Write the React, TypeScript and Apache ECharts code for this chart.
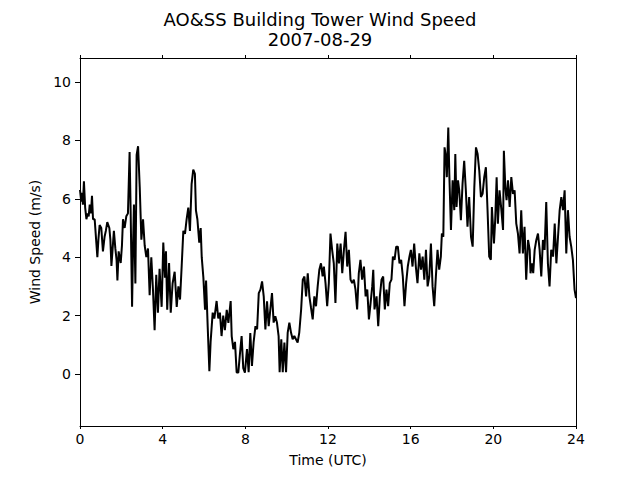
import React, { useEffect, useRef } from "react";
import * as echarts from "echarts";

const titleText = "AO&SS Building Tower Wind Speed\n2007-08-29";
const xLabel = "Time (UTC)";
const yLabel = "Wind Speed (m/s)";
const xTicks = [0, 4, 8, 12, 16, 20, 24];
const yTicks = [0, 2, 4, 6, 8, 10];

const hours = [
  0.0, 0.06, 0.1, 0.14, 0.19, 0.25, 0.31, 0.37, 0.42, 0.47, 0.53, 0.58, 0.63, 0.71, 0.79, 0.84, 0.89, 0.95,
  1.03, 1.11, 1.19, 1.25, 1.32, 1.42, 1.47, 1.52, 1.58, 1.64, 1.71, 1.77, 1.81, 1.87, 1.92, 1.97,
  2.03, 2.08, 2.16, 2.24, 2.32, 2.4, 2.45, 2.52, 2.57, 2.61, 2.68, 2.74, 2.81, 2.89, 2.97,
  3.05, 3.13, 3.21, 3.29, 3.37, 3.45, 3.53, 3.61, 3.69, 3.77, 3.85, 3.95,
  4.03, 4.11, 4.16, 4.22, 4.31, 4.39, 4.48, 4.58, 4.68, 4.76, 4.84, 4.92,
  5.0, 5.08, 5.16, 5.24, 5.32, 5.4, 5.48, 5.56, 5.61, 5.68, 5.77, 5.84, 5.89, 5.97,
  6.05, 6.1, 6.18, 6.26, 6.32, 6.42, 6.5, 6.61, 6.69, 6.77, 6.85, 6.93,
  7.01, 7.1, 7.18, 7.29, 7.34, 7.42, 7.5, 7.58, 7.66, 7.74, 7.82, 7.9, 7.98,
  8.08, 8.16, 8.24, 8.32, 8.4, 8.49, 8.57, 8.65, 8.73, 8.81, 8.89, 8.97,
  9.05, 9.13, 9.21, 9.29, 9.37, 9.45, 9.53, 9.61, 9.66, 9.74, 9.81, 9.89, 9.97,
  10.05, 10.13, 10.21, 10.29, 10.37, 10.45, 10.53, 10.61, 10.7, 10.78, 10.86, 10.94,
  11.02, 11.1, 11.18, 11.26, 11.34, 11.42, 11.5, 11.58, 11.66, 11.74, 11.8, 11.88, 11.96,
  12.04, 12.12, 12.2, 12.28, 12.36, 12.45, 12.53, 12.61, 12.69, 12.77, 12.85, 12.93,
  13.01, 13.09, 13.17, 13.25, 13.33, 13.41, 13.49, 13.57, 13.65, 13.74, 13.82, 13.9, 13.98,
  14.06, 14.14, 14.19, 14.25, 14.35, 14.43, 14.51, 14.59, 14.67, 14.75, 14.83, 14.91, 14.99,
  15.07, 15.14, 15.22, 15.3, 15.38, 15.46, 15.54, 15.62, 15.7, 15.78, 15.86, 15.94,
  16.01, 16.09, 16.17, 16.25, 16.33, 16.42, 16.5, 16.58, 16.66, 16.74, 16.82, 16.9, 16.98,
  17.06, 17.14, 17.22, 17.3, 17.38, 17.46, 17.51, 17.58, 17.64, 17.71, 17.75, 17.82, 17.87, 17.95,
  18.03, 18.11, 18.16, 18.22, 18.29, 18.35, 18.43, 18.51, 18.59, 18.67, 18.75, 18.83, 18.92,
  19.0, 19.08, 19.16, 19.24, 19.32, 19.4, 19.48, 19.56, 19.64, 19.72, 19.8, 19.88, 19.93,
  20.03, 20.09, 20.16, 20.22, 20.3, 20.39, 20.47, 20.51, 20.58, 20.64, 20.71, 20.79, 20.87, 20.95,
  21.03, 21.11, 21.19, 21.27, 21.35, 21.43, 21.51, 21.59, 21.68, 21.76, 21.8, 21.87, 21.93,
  22.0, 22.08, 22.16, 22.24, 22.32, 22.4, 22.48, 22.56, 22.64, 22.72, 22.8, 22.89, 22.97,
  23.05, 23.13, 23.21, 23.29, 23.37, 23.45, 23.53, 23.61, 23.69, 23.77, 23.85, 23.93, 24.0,
];

const speeds = [
  6.3, 5.9, 6.2, 5.8, 6.6, 5.7, 5.3, 5.5, 5.4, 5.8, 5.5, 6.1, 5.3, 5.3, 4.5, 4.0, 4.6, 5.1,
  5.0, 4.2, 4.7, 4.9, 5.2, 5.0, 4.6, 3.7, 4.3, 4.9, 4.3, 3.9, 3.2, 4.2, 4.0, 3.8,
  4.4, 5.3, 5.0, 5.4, 5.5, 7.6, 5.6, 2.3, 4.5, 5.8, 3.1, 7.5, 7.8, 6.4, 4.6,
  5.3, 4.4, 4.0, 4.3, 2.7, 4.0, 2.9, 1.5, 3.4, 2.1, 3.6, 2.3,
  4.5, 3.3, 4.2, 2.2, 3.8, 2.1, 3.1, 3.5, 2.3, 3.0, 2.55, 3.7,
  4.9, 4.8, 5.3, 5.7, 4.9, 6.5, 7.0, 6.85, 5.6, 5.3, 4.5, 5.0, 4.0, 3.3,
  2.2, 3.2, 1.6, 0.1, 1.1, 2.1, 1.9, 2.5, 1.9, 2.1, 1.3, 2.0,
  1.5, 2.2, 1.75, 2.5, 1.3, 0.85, 1.1, 0.05, 0.05, 0.7, 1.3, 0.2, 0.05,
  0.85, 0.06, 1.4, 0.28, 1.08, 1.64, 1.53, 2.77, 2.89, 3.17, 2.66, 1.53,
  2.49, 1.64, 2.21, 2.77, 1.76, 1.98, 1.76, 1.3, 0.06, 1.19, 0.06, 1.08, 0.06,
  1.42, 1.76, 1.42, 1.19, 1.3, 1.19, 1.08, 1.42, 2.21, 3.23, 3.34, 2.66,
  3.45, 2.66, 2.26, 1.87, 2.66, 2.32, 3.0, 3.57, 3.79, 3.34, 3.68, 3.11, 2.32,
  3.11, 4.81, 4.25, 3.79, 2.43, 4.47, 3.79, 4.47, 3.45, 4.25, 4.87, 3.68,
  4.25, 3.23, 3.11, 3.23, 2.89, 2.21, 3.45, 3.91, 3.23, 3.68, 2.66, 2.89, 1.87,
  2.43, 3.0, 3.57, 2.21, 2.66, 1.64, 2.66, 3.23, 3.34, 2.21, 2.89, 2.32, 3.11,
  3.23, 4.02, 3.91, 4.36, 4.36, 3.79, 3.91, 3.34, 2.32, 3.11, 3.68, 4.02,
  4.25, 3.68, 4.47, 3.68, 3.11, 4.13, 3.57, 4.02, 3.23, 4.25, 3.0, 3.34, 4.47,
  3.0, 2.32, 3.34, 4.25, 3.57, 4.02, 4.81, 4.7, 7.76, 7.42, 6.74, 8.44, 6.85, 4.93,
  6.63, 5.61, 7.53, 5.72, 6.63, 6.29, 5.27, 6.51, 7.3, 6.29, 5.04, 6.06, 4.7,
  4.36, 6.4, 7.76, 7.53, 6.96, 6.06, 6.17, 6.74, 7.08, 5.61, 4.02, 3.91, 5.72,
  4.47, 5.27, 6.74, 5.15, 6.29, 5.61, 4.93, 7.64, 6.4, 5.95, 6.63, 5.72, 6.74, 6.17,
  6.29, 5.15, 4.81, 4.13, 5.61, 4.13, 5.04, 3.23, 4.59, 4.25, 3.45, 3.79, 3.45,
  4.25, 4.59, 4.81, 4.25, 3.34, 4.59, 4.25, 5.89, 3.79, 3.0, 4.25, 4.02, 5.15,
  3.79, 4.7, 5.61, 6.06, 5.61, 6.29, 4.13, 5.61, 4.7, 4.36, 3.91, 2.89, 2.6,
];

const FONT = "DejaVu Sans";

export default function App() {
  const ref = useRef<HTMLDivElement>(null);
  useEffect(() => {
    if (!ref.current) return;
    const chart = echarts.init(ref.current, undefined, { renderer: "svg" });
    const data = hours.map((h, i) => [h, speeds[i]]);
    chart.setOption({
      animation: false,
      backgroundColor: "#ffffff",
      textStyle: { fontFamily: FONT },
      title: {
        text: titleText,
        left: "center",
        top: 4,
        textStyle: { fontFamily: FONT, fontSize: 18, fontWeight: "normal", color: "#000", lineHeight: 20 },
      },
      grid: { left: 80, right: 64, top: 58, bottom: 54, containLabel: false },
      xAxis: [
        {
          type: "value",
          position: "bottom",
          min: 0,
          max: 24,
          interval: 4,
          name: xLabel,
          nameLocation: "middle",
          nameGap: 27,
          nameTextStyle: { fontFamily: FONT, fontSize: 14, color: "#000" },
          axisLine: { show: true, onZero: false, lineStyle: { color: "#000", width: 1 } },
          axisTick: { show: true, inside: false, length: 3, lineStyle: { color: "#000" } },
          axisLabel: { show: true, color: "#000", fontFamily: FONT, fontSize: 14, margin: 6 },
          splitLine: { show: false },
        },
        {
          type: "value",
          position: "top",
          min: 0,
          max: 24,
          interval: 4,
          axisLine: { show: true, onZero: false, lineStyle: { color: "#000", width: 1 } },
          axisTick: { show: true, inside: false, length: 3, lineStyle: { color: "#000" } },
          axisLabel: { show: false },
          splitLine: { show: false },
        },
      ],
      yAxis: [
        {
          type: "value",
          position: "left",
          min: -1.78,
          max: 10.82,
          name: yLabel,
          nameLocation: "middle",
          nameGap: 37,
          nameTextStyle: { fontFamily: FONT, fontSize: 14, color: "#000" },
          axisLine: { show: true, onZero: false, lineStyle: { color: "#000", width: 1 } },
          axisTick: { show: true, inside: false, length: 5, customValues: yTicks, lineStyle: { color: "#000" } },
          axisLabel: { show: true, color: "#000", fontFamily: FONT, fontSize: 14, margin: 9, customValues: yTicks },
          splitLine: { show: false },
        },
        {
          type: "value",
          position: "right",
          min: -1.78,
          max: 10.82,
          axisLine: { show: true, onZero: false, lineStyle: { color: "#000", width: 1 } },
          axisTick: { show: false },
          axisLabel: { show: false },
          splitLine: { show: false },
        },
      ],
      series: [
        {
          type: "line",
          xAxisIndex: 0,
          yAxisIndex: 0,
          data,
          showSymbol: false,
          symbol: "none",
          clip: true,
          lineStyle: { color: "#000", width: 2 },
        },
      ],
    });
    return () => chart.dispose();
  }, []);
  return <div ref={ref} style={{ width: 640, height: 480, position: "absolute", left: 0, top: 0 }} />;
}
